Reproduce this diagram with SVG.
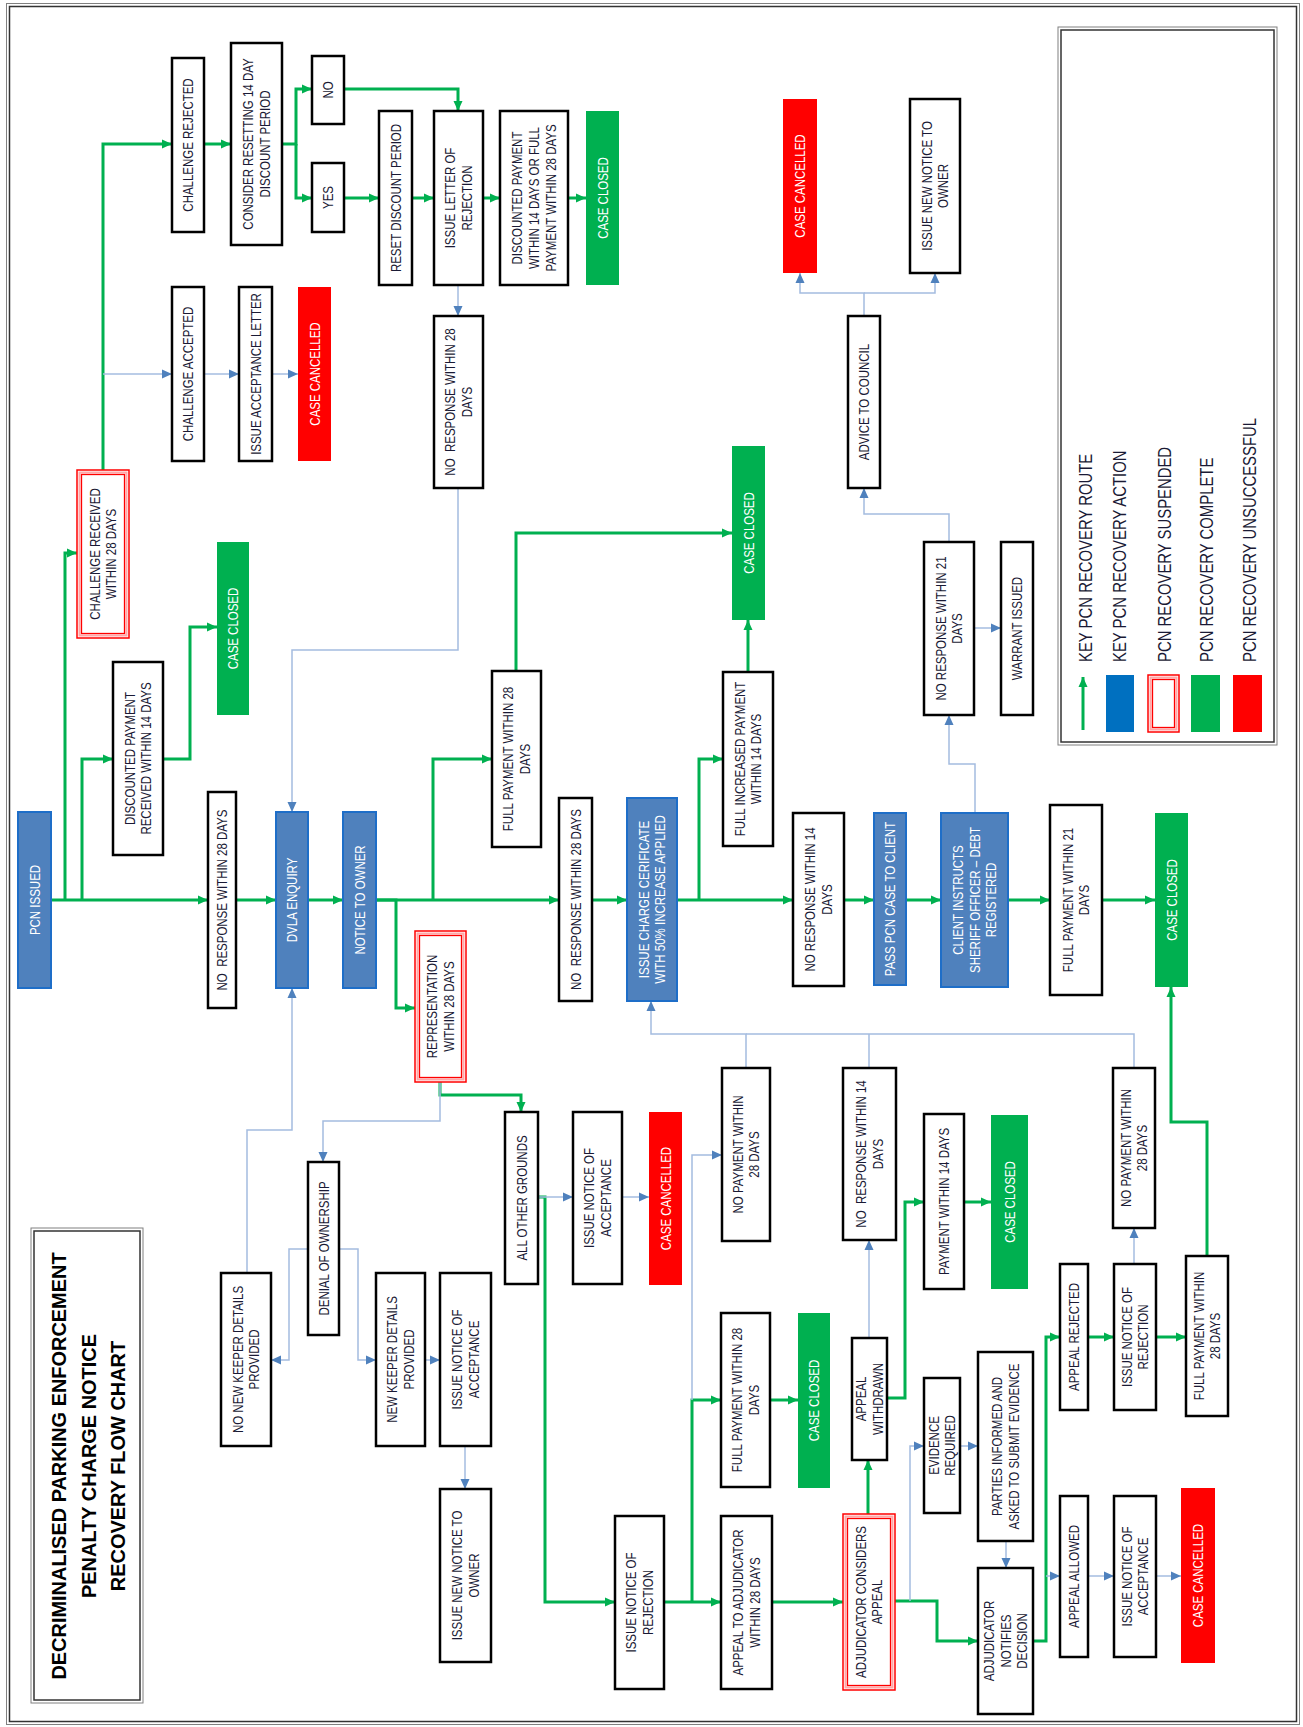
<svg xmlns="http://www.w3.org/2000/svg" width="1303" height="1727" viewBox="0 0 1303 1727">
<defs>
<style>
.b{fill:#fff;stroke:#000;stroke-width:2.5}
.bl{fill:#4f81bd;stroke:#1e6ec8;stroke-width:2}
.g{fill:#00b050}
.r{fill:#ff0000}
.so{fill:#fff;stroke:#ff0000;stroke-width:1.5}
.sm{fill:none;stroke:#ffa8a8;stroke-width:2}
.si{fill:none;stroke:#ff0000;stroke-width:1.3}
text{font-family:"Liberation Sans",Arial,sans-serif;font-size:14px;fill:#1a1a35;text-anchor:middle}
.w{fill:#fff}
.cg{fill:none;stroke:#00b050;stroke-width:3;marker-end:url(#ag)}
.cb{fill:none;stroke:#a4bce0;stroke-width:1.5;marker-end:url(#ab)}
.lg{fill:none;stroke:#00b050;stroke-width:3}
.lb{fill:none;stroke:#a4bce0;stroke-width:1.5}
.fo{fill:none;stroke:#808080;stroke-width:1}
.fi{fill:none;stroke:#333;stroke-width:1.5}
.ttl{font-size:21px;font-weight:bold;fill:#000}
.leg{font-size:17.5px;text-anchor:start}
</style>
<marker id="ag" viewBox="0 0 10 10" refX="10" refY="5" markerWidth="10" markerHeight="10" markerUnits="userSpaceOnUse" orient="auto"><path d="M0,0.5 L10,5 L0,9.5 z" fill="#00b050"/></marker>
<marker id="ab" viewBox="0 0 10 10" refX="10" refY="5" markerWidth="10" markerHeight="10" markerUnits="userSpaceOnUse" orient="auto"><path d="M0,0.5 L10,5 L0,9.5 z" fill="#4f81bd"/></marker>
</defs>
<rect width="1303" height="1727" fill="#fff"/>
<rect class="fo" x="6.5" y="3.5" width="1293" height="1721"/>
<rect class="fi" x="9.5" y="6.5" width="1287" height="1715"/>

<g id="connectors">
<path class="cg" d="M51,900 H208"/>
<path class="cg" d="M236,900 H276"/>
<path class="cg" d="M308,900 H343"/>
<path class="cg" d="M376,900 H559"/>
<path class="cg" d="M592,900 H627"/>
<path class="cg" d="M677,900 H793"/>
<path class="cg" d="M844,900 H874"/>
<path class="cg" d="M906,900 H941"/>
<path class="cg" d="M1008,900 H1050"/>
<path class="cg" d="M1102,900 H1155"/>
<path class="cg" d="M65,900 V553 H77"/>
<path class="cg" d="M82,900 V759 H113"/>
<path class="cg" d="M163,759 H190 V627 H217"/>
<path class="cg" d="M103,470 V144 H172"/>
<path class="cg" d="M204,144 H231"/>
<path class="cg" d="M282,144 H296 V89 H312"/>
<path class="cg" d="M296,144 V198 H312"/>
<path class="cg" d="M344,198 H379"/>
<path class="cg" d="M412,198 H434"/>
<path class="cg" d="M344,89 H458 V111"/>
<path class="cg" d="M483,198 H500"/>
<path class="cg" d="M568,198 H586"/>
<path class="cg" d="M376,900 H396 V1008 H415"/>
<path class="cg" d="M433,900 V759 H492"/>
<path class="cg" d="M516,671 V533 H732"/>
<path class="cg" d="M699,900 V759 H723"/>
<path class="cg" d="M748,672 V620"/>
<path class="cg" d="M440,1082 V1095 H521 V1112"/>
<path class="cg" d="M538,1197 H545 V1602 H615"/>
<path class="cg" d="M664,1602 H721"/>
<path class="cg" d="M692,1602 V1400 H721"/>
<path class="cg" d="M770,1400 H798"/>
<path class="cg" d="M772,1602 H843"/>
<path class="cg" d="M868,1514 V1460"/>
<path class="cg" d="M887,1398 H905 V1202 H924"/>
<path class="cg" d="M964,1202 H991"/>
<path class="cg" d="M895,1601 H937 V1641 H978"/>
<path class="cg" d="M1033,1641 H1046 V1337 H1060"/>
<path class="cg" d="M1088,1337 H1114"/>
<path class="cg" d="M1156,1337 H1186"/>
<path class="cg" d="M1207,1256 V1122 H1171 V987"/>

<path class="cb" d="M103,374 H172"/>
<path class="cb" d="M204,374 H239"/>
<path class="cb" d="M272,374 H298"/>
<path class="cb" d="M458,285 V316"/>
<path class="cb" d="M458,488 V650 H292 V812"/>
<path class="cb" d="M247,1273 V1130 H292 V988"/>
<path class="cb" d="M440,1082 V1121 H323 V1162"/>
<path class="cb" d="M308,1249 H289 V1360 H271"/>
<path class="cb" d="M339,1249 H358 V1360 H376"/>
<path class="cb" d="M425,1360 H440"/>
<path class="cb" d="M465,1446 V1489"/>
<path class="cb" d="M538,1197 H573"/>
<path class="cb" d="M622,1197 H649"/>
<path class="cb" d="M692,1400 V1155 H722"/>
<path class="cb" d="M746,1068 V1034 H651 V1001"/>
<path class="lb" d="M869,1068 V1034"/>
<path class="lb" d="M1134,1068 V1034 H746"/>
<path class="cb" d="M869,1338 V1240"/>
<path class="cb" d="M910,1601 V1446 H924"/>
<path class="cb" d="M960,1446 H978"/>
<path class="cb" d="M1006,1541 V1568"/>
<path class="cb" d="M1046,1576 H1060"/>
<path class="cb" d="M1088,1576 H1114"/>
<path class="cb" d="M1156,1576 H1181"/>
<path class="cb" d="M1134,1264 V1228"/>
<path class="cb" d="M975,813 V764 H949 V715"/>
<path class="cb" d="M974,628 H1001"/>
<path class="cb" d="M949,542 V514 H864 V488"/>
<path class="cb" d="M864,316 V293 H800 V273"/>
<path class="cb" d="M864,293 H935 V273"/>
</g>

<g id="title">
<rect class="fo" x="31" y="1228" width="112" height="475" stroke-width="2"/>
<rect class="fi" x="34" y="1231" width="106" height="469"/>
<text class="ttl" transform="translate(88 1466) rotate(-90) scale(.95 1)"><tspan x="0" y="-22.5">DECRIMINALISED PARKING ENFORCEMENT</tspan><tspan x="0" y="7.5">PENALTY CHARGE NOTICE</tspan><tspan x="0" y="37.5">RECOVERY FLOW CHART</tspan></text>
</g>

<g id="legend">
<rect class="fo" x="1058" y="27" width="219" height="718" stroke-width="2"/>
<rect class="fi" x="1061" y="30" width="213" height="712"/>
<path class="cg" d="M1083,730 V677"/>
<rect x="1106" y="675" width="28" height="57" fill="#0070c0"/>
<rect class="so" x="1148" y="675" width="31" height="57"/>
<rect class="sm" x="1150.5" y="677.5" width="26" height="52"/>
<rect class="si" x="1152.5" y="679.5" width="22" height="48"/>
<rect class="g" x="1191" y="675" width="29" height="57"/>
<rect class="r" x="1233" y="675" width="29" height="57"/>
<text class="leg" transform="translate(1092 662) rotate(-90) scale(.85 1)">KEY PCN RECOVERY ROUTE</text>
<text class="leg" transform="translate(1126 662) rotate(-90) scale(.85 1)">KEY PCN RECOVERY ACTION</text>
<text class="leg" transform="translate(1171 662) rotate(-90) scale(.85 1)">PCN RECOVERY SUSPENDED</text>
<text class="leg" transform="translate(1213 662) rotate(-90) scale(.85 1)">PCN RECOVERY COMPLETE</text>
<text class="leg" transform="translate(1256 662) rotate(-90) scale(.85 1)">PCN RECOVERY UNSUCCESSFUL</text>
</g>

<g id="n_pcn"><rect class="bl" x="18" y="812" width="33" height="176"/><text class="w" transform="translate(34.5 900) rotate(-90) scale(.82 1)" y="5">PCN ISSUED</text></g>
<g id="n_chrec"><rect class="so" x="77" y="470" width="52" height="168"/><rect class="sm" x="79.5" y="472.5" width="47" height="163"/><rect class="si" x="81.5" y="474.5" width="43" height="159"/><text transform="translate(103 554) rotate(-90) scale(.82 1)"><tspan x="0" y="-3.5">CHALLENGE RECEIVED</tspan><tspan x="0" y="13.5">WITHIN 28 DAYS</tspan></text></g>
<g id="n_disc14"><rect class="b" x="113" y="662" width="50" height="193"/><text transform="translate(138 758.5) rotate(-90) scale(.82 1)"><tspan x="0" y="-3.5">DISCOUNTED PAYMENT</tspan><tspan x="0" y="13.5">RECEIVED WITHIN 14 DAYS</tspan></text></g>
<g id="n_cc1"><rect class="g" x="217" y="542" width="32" height="173"/><text class="w" transform="translate(233 628.5) rotate(-90) scale(.82 1)" y="5">CASE CLOSED</text></g>
<g id="n_nr28a"><rect class="b" x="208" y="792" width="28" height="216"/><text transform="translate(222 900) rotate(-90) scale(.82 1)" y="5">NO&#160; RESPONSE WITHIN 28 DAYS</text></g>
<g id="n_dvla"><rect class="bl" x="276" y="812" width="32" height="176"/><text class="w" transform="translate(292 900) rotate(-90) scale(.82 1)" y="5">DVLA ENQUIRY</text></g>
<g id="n_nto"><rect class="bl" x="343" y="812" width="33" height="176"/><text class="w" transform="translate(359.5 900) rotate(-90) scale(.82 1)" y="5">NOTICE TO OWNER</text></g>
<g id="n_rep"><rect class="so" x="415" y="931" width="51" height="151"/><rect class="sm" x="417.5" y="933.5" width="46" height="146"/><rect class="si" x="419.5" y="935.5" width="42" height="142"/><text transform="translate(440.5 1006.5) rotate(-90) scale(.82 1)"><tspan x="0" y="-3.5">REPRESENTATION</tspan><tspan x="0" y="13.5">WITHIN 28 DAYS</tspan></text></g>
<g id="n_chrej"><rect class="b" x="172" y="58" width="32" height="174"/><text transform="translate(188 145) rotate(-90) scale(.82 1)" y="5">CHALLENGE REJECTED</text></g>
<g id="n_chacc"><rect class="b" x="172" y="287" width="32" height="174"/><text transform="translate(188 374) rotate(-90) scale(.82 1)" y="5">CHALLENGE ACCEPTED</text></g>
<g id="n_ial"><rect class="b" x="239" y="287" width="33" height="174"/><text transform="translate(255.5 374) rotate(-90) scale(.82 1)" y="5">ISSUE ACCEPTANCE LETTER</text></g>
<g id="n_ccan1"><rect class="r" x="298" y="287" width="33" height="174"/><text class="w" transform="translate(314.5 374) rotate(-90) scale(.82 1)" y="5">CASE CANCELLED</text></g>
<g id="n_consider"><rect class="b" x="231" y="43" width="51" height="202"/><text transform="translate(256.5 144) rotate(-90) scale(.82 1)"><tspan x="0" y="-3.5">CONSIDER RESETTING 14 DAY</tspan><tspan x="0" y="13.5">DISCOUNT PERIOD</tspan></text></g>
<g id="n_no"><rect class="b" x="312" y="56" width="32" height="68"/><text transform="translate(328 90) rotate(-90) scale(.82 1)" y="5">NO</text></g>
<g id="n_yes"><rect class="b" x="312" y="163" width="32" height="69"/><text transform="translate(328 197.5) rotate(-90) scale(.82 1)" y="5">YES</text></g>
<g id="n_reset"><rect class="b" x="379" y="111" width="33" height="174"/><text transform="translate(395.5 198) rotate(-90) scale(.82 1)" y="5">RESET DISCOUNT PERIOD</text></g>
<g id="n_ilr"><rect class="b" x="434" y="111" width="49" height="174"/><text transform="translate(458.5 198) rotate(-90) scale(.82 1)"><tspan x="0" y="-3.5">ISSUE LETTER OF</tspan><tspan x="0" y="13.5">REJECTION</tspan></text></g>
<g id="n_dpf"><rect class="b" x="500" y="111" width="68" height="174"/><text transform="translate(534 198) rotate(-90) scale(.82 1)"><tspan x="0" y="-12">DISCOUNTED PAYMENT</tspan><tspan x="0" y="5">WITHIN 14 DAYS OR FULL</tspan><tspan x="0" y="22">PAYMENT WITHIN 28 DAYS</tspan></text></g>
<g id="n_cc2"><rect class="g" x="586" y="111" width="33" height="174"/><text class="w" transform="translate(602.5 198) rotate(-90) scale(.82 1)" y="5">CASE CLOSED</text></g>
<g id="n_nr28b"><rect class="b" x="434" y="316" width="49" height="172"/><text transform="translate(458.5 402) rotate(-90) scale(.82 1)"><tspan x="0" y="-3.5">NO&#160; RESPONSE WITHIN 28</tspan><tspan x="0" y="13.5">DAYS</tspan></text></g>
<g id="n_fp28a"><rect class="b" x="492" y="671" width="49" height="176"/><text transform="translate(516.5 759) rotate(-90) scale(.82 1)"><tspan x="0" y="-3.5">FULL PAYMENT WITHIN 28</tspan><tspan x="0" y="13.5">DAYS</tspan></text></g>
<g id="n_cc3"><rect class="g" x="732" y="446" width="33" height="174"/><text class="w" transform="translate(748.5 533) rotate(-90) scale(.82 1)" y="5">CASE CLOSED</text></g>
<g id="n_nr28c"><rect class="b" x="559" y="798" width="33" height="203"/><text transform="translate(575.5 899.5) rotate(-90) scale(.82 1)" y="5">NO&#160; RESPONSE WITHIN 28 DAYS</text></g>
<g id="n_icc"><rect class="bl" x="627" y="798" width="50" height="203"/><text class="w" transform="translate(652 899.5) rotate(-90) scale(.82 1)"><tspan x="0" y="-3.5">ISSUE CHARGE CERIFICATE</tspan><tspan x="0" y="13.5">WITH 50% INCREASE APPLIED</tspan></text></g>
<g id="n_fip"><rect class="b" x="723" y="672" width="50" height="174"/><text transform="translate(748 759) rotate(-90) scale(.82 1)"><tspan x="0" y="-3.5">FULL INCREASED PAYMENT</tspan><tspan x="0" y="13.5">WITHIN 14 DAYS</tspan></text></g>
<g id="n_nr14a"><rect class="b" x="793" y="813" width="51" height="173"/><text transform="translate(818.5 899.5) rotate(-90) scale(.82 1)"><tspan x="0" y="-3.5">NO RESPONSE WITHIN 14</tspan><tspan x="0" y="13.5">DAYS</tspan></text></g>
<g id="n_pass"><rect class="bl" x="874" y="813" width="32" height="172"/><text class="w" transform="translate(890 899) rotate(-90) scale(.82 1)" y="5">PASS PCN CASE TO CLIENT</text></g>
<g id="n_client"><rect class="bl" x="941" y="813" width="67" height="174"/><text class="w" transform="translate(974.5 900) rotate(-90) scale(.82 1)"><tspan x="0" y="-12">CLIENT INSTRUCTS</tspan><tspan x="0" y="5">SHERIFF OFFICER – DEBT</tspan><tspan x="0" y="22">REGISTERED</tspan></text></g>
<g id="n_fp21"><rect class="b" x="1050" y="805" width="52" height="190"/><text transform="translate(1076 900) rotate(-90) scale(.82 1)"><tspan x="0" y="-3.5">FULL PAYMENT WITHIN 21</tspan><tspan x="0" y="13.5">DAYS</tspan></text></g>
<g id="n_cc4"><rect class="g" x="1155" y="813" width="33" height="174"/><text class="w" transform="translate(1171.5 900) rotate(-90) scale(.82 1)" y="5">CASE CLOSED</text></g>
<g id="n_nr21"><rect class="b" x="924" y="542" width="50" height="173"/><text transform="translate(949 628.5) rotate(-90) scale(.82 1)"><tspan x="0" y="-3.5">NO RESPONSE WITHIN 21</tspan><tspan x="0" y="13.5">DAYS</tspan></text></g>
<g id="n_warrant"><rect class="b" x="1001" y="542" width="32" height="173"/><text transform="translate(1017 628.5) rotate(-90) scale(.82 1)" y="5">WARRANT ISSUED</text></g>
<g id="n_advice"><rect class="b" x="848" y="316" width="32" height="172"/><text transform="translate(864 402) rotate(-90) scale(.82 1)" y="5">ADVICE TO COUNCIL</text></g>
<g id="n_ccan2"><rect class="r" x="783" y="99" width="34" height="174"/><text class="w" transform="translate(800 186) rotate(-90) scale(.82 1)" y="5">CASE CANCELLED</text></g>
<g id="n_inno1"><rect class="b" x="910" y="99" width="50" height="174"/><text transform="translate(935 186) rotate(-90) scale(.82 1)"><tspan x="0" y="-3.5">ISSUE NEW NOTICE TO</tspan><tspan x="0" y="13.5">OWNER</tspan></text></g>
<g id="n_nonew"><rect class="b" x="221" y="1273" width="50" height="173"/><text transform="translate(246 1359.5) rotate(-90) scale(.82 1)"><tspan x="0" y="-3.5">NO NEW KEEPER DETAILS</tspan><tspan x="0" y="13.5">PROVIDED</tspan></text></g>
<g id="n_denial"><rect class="b" x="308" y="1162" width="31" height="173"/><text transform="translate(323.5 1248.5) rotate(-90) scale(.82 1)" y="5">DENIAL OF OWNERSHIP</text></g>
<g id="n_newk"><rect class="b" x="376" y="1273" width="49" height="173"/><text transform="translate(400.5 1359.5) rotate(-90) scale(.82 1)"><tspan x="0" y="-3.5">NEW KEEPER DETAILS</tspan><tspan x="0" y="13.5">PROVIDED</tspan></text></g>
<g id="n_ina1"><rect class="b" x="440" y="1273" width="51" height="173"/><text transform="translate(465.5 1359.5) rotate(-90) scale(.82 1)"><tspan x="0" y="-3.5">ISSUE NOTICE OF</tspan><tspan x="0" y="13.5">ACCEPTANCE</tspan></text></g>
<g id="n_inno2"><rect class="b" x="440" y="1489" width="51" height="173"/><text transform="translate(465.5 1575.5) rotate(-90) scale(.82 1)"><tspan x="0" y="-3.5">ISSUE NEW NOTICE TO</tspan><tspan x="0" y="13.5">OWNER</tspan></text></g>
<g id="n_aog"><rect class="b" x="505" y="1112" width="33" height="172"/><text transform="translate(521.5 1198) rotate(-90) scale(.82 1)" y="5">ALL OTHER GROUNDS</text></g>
<g id="n_ina2"><rect class="b" x="573" y="1112" width="49" height="172"/><text transform="translate(597.5 1198) rotate(-90) scale(.82 1)"><tspan x="0" y="-3.5">ISSUE NOTICE OF</tspan><tspan x="0" y="13.5">ACCEPTANCE</tspan></text></g>
<g id="n_ccan3"><rect class="r" x="649" y="1112" width="33" height="173"/><text class="w" transform="translate(665.5 1198.5) rotate(-90) scale(.82 1)" y="5">CASE CANCELLED</text></g>
<g id="n_inr1"><rect class="b" x="615" y="1516" width="49" height="173"/><text transform="translate(639.5 1602.5) rotate(-90) scale(.82 1)"><tspan x="0" y="-3.5">ISSUE NOTICE OF</tspan><tspan x="0" y="13.5">REJECTION</tspan></text></g>
<g id="n_np28a"><rect class="b" x="722" y="1068" width="48" height="173"/><text transform="translate(746 1154.5) rotate(-90) scale(.82 1)"><tspan x="0" y="-3.5">NO PAYMENT WITHIN</tspan><tspan x="0" y="13.5">28 DAYS</tspan></text></g>
<g id="n_fp28b"><rect class="b" x="721" y="1313" width="49" height="174"/><text transform="translate(745.5 1400) rotate(-90) scale(.82 1)"><tspan x="0" y="-3.5">FULL PAYMENT WITHIN 28</tspan><tspan x="0" y="13.5">DAYS</tspan></text></g>
<g id="n_cc5"><rect class="g" x="798" y="1313" width="32" height="175"/><text class="w" transform="translate(814 1400.5) rotate(-90) scale(.82 1)" y="5">CASE CLOSED</text></g>
<g id="n_apadj"><rect class="b" x="721" y="1516" width="51" height="173"/><text transform="translate(746.5 1602.5) rotate(-90) scale(.82 1)"><tspan x="0" y="-3.5">APPEAL TO ADJUDICATOR</tspan><tspan x="0" y="13.5">WITHIN 28 DAYS</tspan></text></g>
<g id="n_adjcons"><rect class="so" x="843" y="1514" width="52" height="176"/><rect class="sm" x="845.5" y="1516.5" width="47" height="171"/><rect class="si" x="847.5" y="1518.5" width="43" height="167"/><text transform="translate(869 1602) rotate(-90) scale(.82 1)"><tspan x="0" y="-3.5">ADJUDICATOR CONSIDERS</tspan><tspan x="0" y="13.5">APPEAL</tspan></text></g>
<g id="n_apwd"><rect class="b" x="852" y="1338" width="35" height="122"/><text transform="translate(869.5 1399) rotate(-90) scale(.82 1)"><tspan x="0" y="-3.5">APPEAL</tspan><tspan x="0" y="13.5">WITHDRAWN</tspan></text></g>
<g id="n_nr14b"><rect class="b" x="843" y="1068" width="53" height="172"/><text transform="translate(869.5 1154) rotate(-90) scale(.82 1)"><tspan x="0" y="-3.5">NO&#160; RESPONSE WITHIN 14</tspan><tspan x="0" y="13.5">DAYS</tspan></text></g>
<g id="n_pw14"><rect class="b" x="924" y="1114" width="40" height="175"/><text transform="translate(944 1201.5) rotate(-90) scale(.82 1)" y="5">PAYMENT WITHIN 14 DAYS</text></g>
<g id="n_cc6"><rect class="g" x="991" y="1115" width="37" height="174"/><text class="w" transform="translate(1009.5 1202) rotate(-90) scale(.82 1)" y="5">CASE CLOSED</text></g>
<g id="n_evid"><rect class="b" x="924" y="1378" width="36" height="135"/><text transform="translate(942 1445.5) rotate(-90) scale(.82 1)"><tspan x="0" y="-3.5">EVIDENCE</tspan><tspan x="0" y="13.5">REQUIRED</tspan></text></g>
<g id="n_parties"><rect class="b" x="978" y="1352" width="55" height="189"/><text transform="translate(1005.5 1446.5) rotate(-90) scale(.82 1)"><tspan x="0" y="-3.5">PARTIES INFORMED AND</tspan><tspan x="0" y="13.5">ASKED TO SUBMIT EVIDENCE</tspan></text></g>
<g id="n_adjnot"><rect class="b" x="978" y="1568" width="55" height="146"/><text transform="translate(1005.5 1641) rotate(-90) scale(.82 1)"><tspan x="0" y="-12">ADJUDICATOR</tspan><tspan x="0" y="5">NOTIFIES</tspan><tspan x="0" y="22">DECISION</tspan></text></g>
<g id="n_aprej"><rect class="b" x="1060" y="1264" width="28" height="146"/><text transform="translate(1074 1337) rotate(-90) scale(.82 1)" y="5">APPEAL REJECTED</text></g>
<g id="n_inr2"><rect class="b" x="1114" y="1264" width="42" height="146"/><text transform="translate(1135 1337) rotate(-90) scale(.82 1)"><tspan x="0" y="-3.5">ISSUE NOTICE OF</tspan><tspan x="0" y="13.5">REJECTION</tspan></text></g>
<g id="n_fp28c"><rect class="b" x="1186" y="1256" width="42" height="160"/><text transform="translate(1207 1336) rotate(-90) scale(.82 1)"><tspan x="0" y="-3.5">FULL PAYMENT WITHIN</tspan><tspan x="0" y="13.5">28 DAYS</tspan></text></g>
<g id="n_np28b"><rect class="b" x="1113" y="1068" width="42" height="160"/><text transform="translate(1134 1148) rotate(-90) scale(.82 1)"><tspan x="0" y="-3.5">NO PAYMENT WITHIN</tspan><tspan x="0" y="13.5">28 DAYS</tspan></text></g>
<g id="n_apall"><rect class="b" x="1060" y="1496" width="28" height="161"/><text transform="translate(1074 1576.5) rotate(-90) scale(.82 1)" y="5">APPEAL ALLOWED</text></g>
<g id="n_ina3"><rect class="b" x="1114" y="1496" width="42" height="161"/><text transform="translate(1135 1576.5) rotate(-90) scale(.82 1)"><tspan x="0" y="-3.5">ISSUE NOTICE OF</tspan><tspan x="0" y="13.5">ACCEPTANCE</tspan></text></g>
<g id="n_ccan4"><rect class="r" x="1181" y="1488" width="34" height="175"/><text class="w" transform="translate(1198 1575.5) rotate(-90) scale(.82 1)" y="5">CASE CANCELLED</text></g>
</svg>
